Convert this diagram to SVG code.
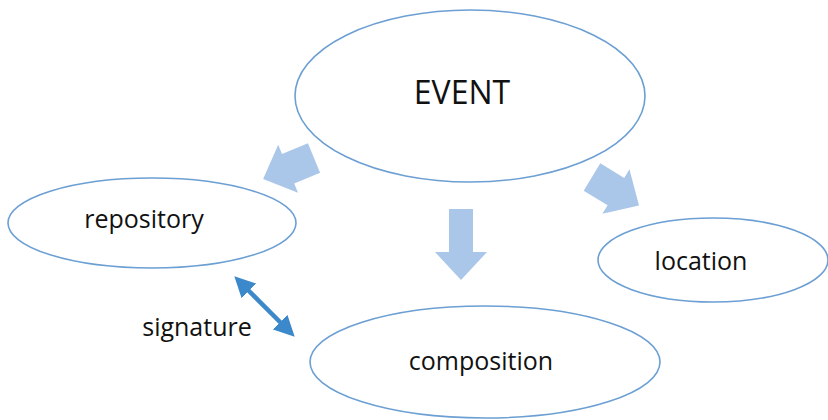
<svg xmlns="http://www.w3.org/2000/svg" width="828" height="420" viewBox="0 0 828 420">
<defs>
<style>
.node{fill:#ffffff;stroke:#6c9fd3;stroke-width:1.6}
.lbl{font-family:"Open Sans","Liberation Sans",sans-serif;fill:#111111;text-anchor:middle;dominant-baseline:central}
.blk{fill:#aac6e9}
.dbl{stroke:#3b88cb;stroke-width:4.5;fill:none}
</style>
<marker id="ah" viewBox="0 0 10 10" refX="2" refY="5" markerWidth="4.6" markerHeight="4.6" orient="auto-start-reverse" markerUnits="strokeWidth">
<path d="M0,0 L10,5 L0,10 z" fill="#3b88cb"/>
</marker>
</defs>
<rect width="828" height="420" fill="#ffffff"/>
<g id="connectors">
<polygon class="blk" points="0,-16 28,-16 28,-26 55,0 28,26 28,16 0,16" transform="translate(314,158) rotate(157.6)"/>
<polygon class="blk" points="0,-12 43,-12 43,-26 71,0 43,26 43,12 0,12" transform="translate(461,209) rotate(90)"/>
<polygon class="blk" points="0,-16 28,-16 28,-26 55,0 28,26 28,16 0,16" transform="translate(592,177) rotate(31.3)"/>
<line class="dbl" x1="246" y1="288" x2="283" y2="325" marker-start="url(#ah)" marker-end="url(#ah)"/>
</g>
<g id="event">
<ellipse class="node" cx="470" cy="96" rx="175" ry="86"/>
<text class="lbl" x="462" y="91" font-size="32">EVENT</text>
</g>
<g id="repository">
<ellipse class="node" cx="152" cy="223" rx="144" ry="45"/>
<text class="lbl" x="144" y="218" font-size="25">repository</text>
</g>
<g id="location">
<ellipse class="node" cx="713" cy="260" rx="115" ry="42"/>
<text class="lbl" x="701" y="260" font-size="25">location</text>
</g>
<g id="composition">
<ellipse class="node" cx="485" cy="362" rx="175" ry="56"/>
<text class="lbl" x="481" y="360" font-size="25">composition</text>
</g>
<g id="signature">
<text class="lbl" x="197" y="326" font-size="25">signature</text>
</g>
</svg>
